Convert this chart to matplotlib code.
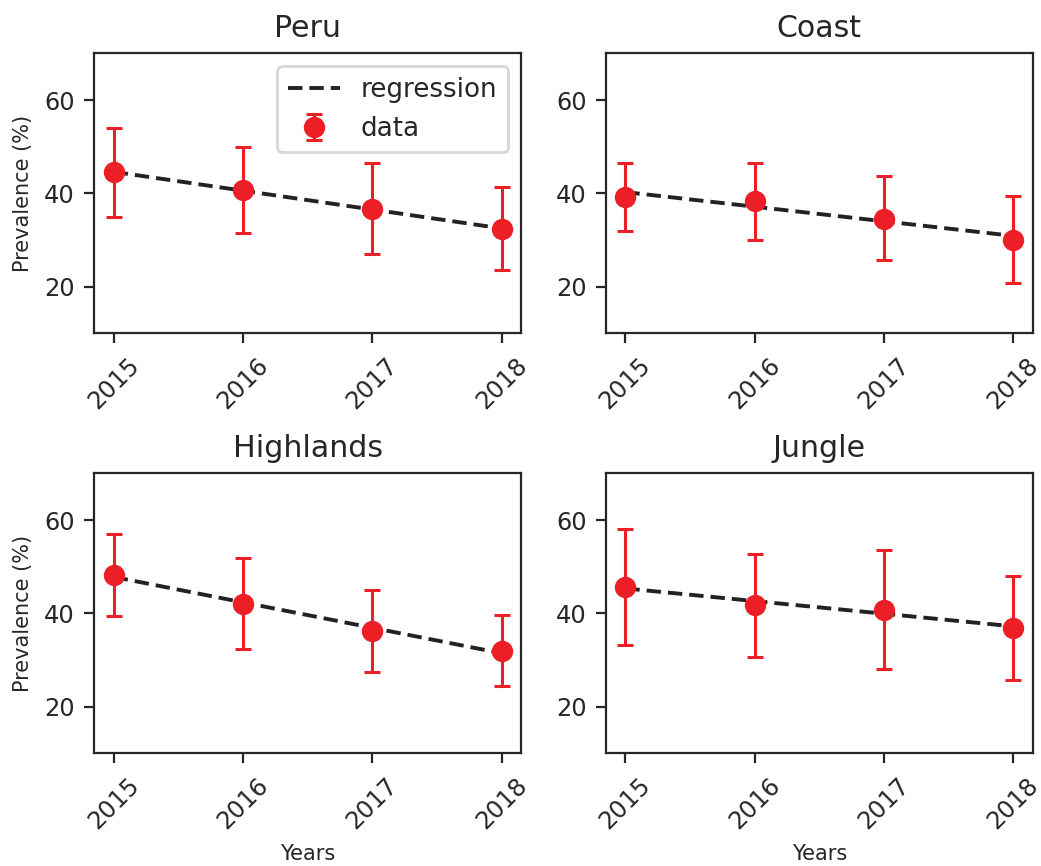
#!/usr/bin/env python
"""Prevalence by region, 2015-2018, with linear regression."""

import matplotlib
import numpy as np

matplotlib.use("Agg")
import matplotlib.pyplot as plt

years = [2015, 2016, 2017, 2018]
regions = ["Peru", "Coast", "Highlands", "Jungle"]

# prevalence (%) and error bar extents
peru = [44.5, 40.7, 36.6, 32.4]
peru_low = [34.9, 31.4, 26.9, 23.5]
peru_high = [54.1, 50.0, 46.4, 41.3]

coast = [39.3, 38.3, 34.6, 30.1]
coast_low = [31.9, 30.1, 25.8, 20.7]
coast_high = [46.5, 46.5, 43.7, 39.4]

highlands = [48.2, 42.1, 36.2, 32.0]
highlands_low = [39.5, 32.3, 27.4, 24.4]
highlands_high = [56.9, 51.9, 45.1, 39.6]

jungle = [45.6, 41.8, 40.8, 36.9]
jungle_low = [33.3, 30.6, 28.1, 25.7]
jungle_high = [58.1, 52.8, 53.5, 48.1]

RED = "#ed1f26"
DARK = "#262626"

plt.rcParams.update({
    "font.family": "DejaVu Sans",
    "axes.edgecolor": DARK,
    "axes.linewidth": 0.8,
    "xtick.color": DARK,
    "ytick.color": DARK,
    "text.color": DARK,
    "axes.labelcolor": DARK,
})

series = [
    (peru, peru_low, peru_high),
    (coast, coast_low, coast_high),
    (highlands, highlands_low, highlands_high),
    (jungle, jungle_low, jungle_high),
]

fig, axes = plt.subplots(2, 2, figsize=(5.205, 4.33), dpi=200)
fig.subplots_adjust(left=0.0906, right=0.992, top=0.9384, bottom=0.1301,
                    wspace=0.199, hspace=0.5)

x = np.array(years, dtype=float)
for i, (ax, name, (vals, low, high)) in enumerate(zip(axes.flat, regions, series)):
    vals = np.array(vals)
    yerr = [vals - np.array(low), np.array(high) - vals]
    slope, intercept = np.polyfit(x, vals, 1)
    ax.plot(x, slope * x + intercept, "--", color="#222222", lw=1.4,
            dashes=(3.7, 1.8), label="regression", zorder=2)
    ax.errorbar(x, vals, yerr=yerr, fmt="o", color=RED, ms=6.7, elinewidth=1.1,
                capsize=3, capthick=1.1, label="data", zorder=3)
    ax.set_title(name, fontsize=10.8)
    ax.set_ylim(10, 70)
    ax.set_yticks([20, 40, 60])
    ax.set_xticks(years)
    ax.set_xticklabels([str(y) for y in years], rotation=45)
    ax.tick_params(labelsize=8.7, width=0.8, length=3.5)
    if i % 2 == 0:
        ax.set_ylabel("Prevalence (%)", fontsize=7.5)
    if i >= 2:
        ax.set_xlabel("Years", fontsize=7.5)
    if i == 0:
        ax.legend(loc="upper right", fontsize=9.4)

fig.savefig("out.png", dpi=200)
